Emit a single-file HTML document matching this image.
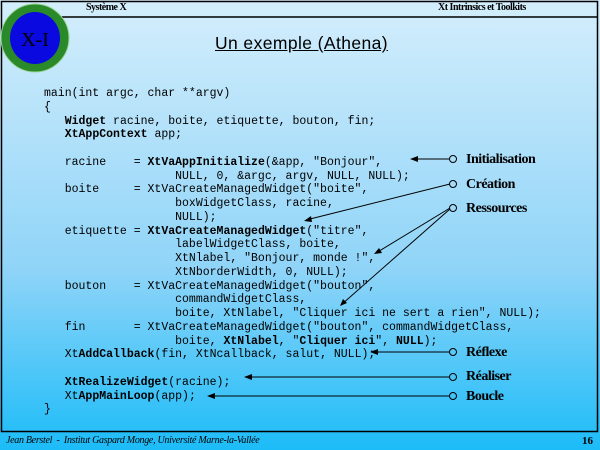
<!DOCTYPE html>
<html><head><meta charset="utf-8"><style>
html,body{margin:0;padding:0}
body{width:600px;height:450px;position:relative;overflow:hidden;background:linear-gradient(#d4eefc,#8fd4f8 60%,#1cbcf8);font-family:"Liberation Serif",serif}
.code{position:absolute;left:44px;top:87px;font-family:"Liberation Mono",monospace;font-size:11.5px;line-height:13.75px;white-space:pre;color:#000}
.lbl{position:absolute;left:466px;font-weight:bold;font-size:14px;letter-spacing:-0.5px}
</style></head><body>
<svg width="600" height="450" style="position:absolute;left:0;top:0">
<rect x="1.5" y="1.5" width="596" height="430" fill="none" stroke="#000" stroke-width="1.5"/>
<line x1="57" y1="17" x2="598" y2="17" stroke="#000" stroke-width="1.5"/>
<circle cx="35" cy="38" r="34" fill="#2a8a2a"/>
<circle cx="35" cy="38" r="34" fill="none" stroke="#9cd49c" stroke-width="1"/>
<ellipse cx="35" cy="38" rx="25" ry="26" fill="#0a0ae0"/>
<text x="35" y="46" font-family="Liberation Serif" font-size="20" text-anchor="middle">X-I</text>
<g stroke="#000" stroke-width="1" fill="none">
<line x1="450" y1="159" x2="412" y2="159"/><circle cx="453" cy="159" r="3.5"/>
<line x1="450" y1="184" x2="306" y2="220"/><circle cx="453" cy="184" r="3.5"/>
<line x1="450" y1="208" x2="376" y2="253"/><line x1="450" y1="209" x2="341" y2="305"/><circle cx="453" cy="208" r="3.5"/>
<line x1="450" y1="352" x2="372" y2="352"/><circle cx="453" cy="352" r="3.5"/>
<line x1="450" y1="377" x2="246" y2="377"/><circle cx="453" cy="377" r="3.5"/>
<line x1="450" y1="396" x2="209" y2="396"/><circle cx="453" cy="396" r="3.5"/>
</g>
<g fill="#000">
<polygon points="410,159 418,156 418,162"/>
<polygon points="304,221 311,216 312,222"/>
<polygon points="374,254 379,248 382,253"/>
<polygon points="340,306 343,299 347,303"/>
<polygon points="370,352 378,349 378,355"/>
<polygon points="244,377 252,374 252,380"/>
<polygon points="207,396 215,393 215,399"/>
</g>
</svg>
<div style="position:absolute;left:86px;top:2px;font-size:10px;font-weight:bold;letter-spacing:-0.5px">Système X</div>
<div style="position:absolute;left:438px;top:2px;font-size:10px;font-weight:bold;letter-spacing:-0.5px">Xt Intrinsics et Toolkits</div>
<div style="position:absolute;left:215px;top:33px;font-family:'Liberation Sans',sans-serif;font-size:17.5px;letter-spacing:0.4px;text-decoration:underline">Un exemple (Athena)</div>
<div class="code">main(int argc, char **argv)
{
   <b>Widget</b> racine, boite, etiquette, bouton, fin;
   <b>XtAppContext</b> app;

   racine    = <b>XtVaAppInitialize</b>(&amp;app, "Bonjour",
                   NULL, 0, &amp;argc, argv, NULL, NULL);
   boite     = XtVaCreateManagedWidget("boite",
                   boxWidgetClass, racine,
                   NULL);
   etiquette = <b>XtVaCreateManagedWidget</b>("titre",
                   labelWidgetClass, boite,
                   XtNlabel, "Bonjour, monde !",
                   XtNborderWidth, 0, NULL);
   bouton    = XtVaCreateManagedWidget("bouton",
                   commandWidgetClass,
                   boite, XtNlabel, "Cliquer ici ne sert a rien", NULL);
   fin       = XtVaCreateManagedWidget("bouton", commandWidgetClass,
                   boite, <b>XtNlabel</b>, "<b>Cliquer ici</b>", <b>NULL</b>);
   Xt<b>AddCallback</b>(fin, XtNcallback, salut, NULL);

   <b>XtRealizeWidget</b>(racine);
   Xt<b>AppMainLoop</b>(app);
}</div>
<div class="lbl" style="top:152px">Initialisation</div>
<div class="lbl" style="top:177px">Création</div>
<div class="lbl" style="top:201px">Ressources</div>
<div class="lbl" style="top:345px">Réflexe</div>
<div class="lbl" style="top:369px">Réaliser</div>
<div class="lbl" style="top:389px">Boucle</div>
<div style="position:absolute;left:6px;top:435px;font-size:10px;font-style:italic;letter-spacing:-0.3px">Jean Berstel &nbsp;- &nbsp;Institut Gaspard Monge, Université Marne-la-Vallée</div>
<div style="position:absolute;left:582px;top:435px;font-size:11px;font-weight:bold">16</div>
</body></html>
